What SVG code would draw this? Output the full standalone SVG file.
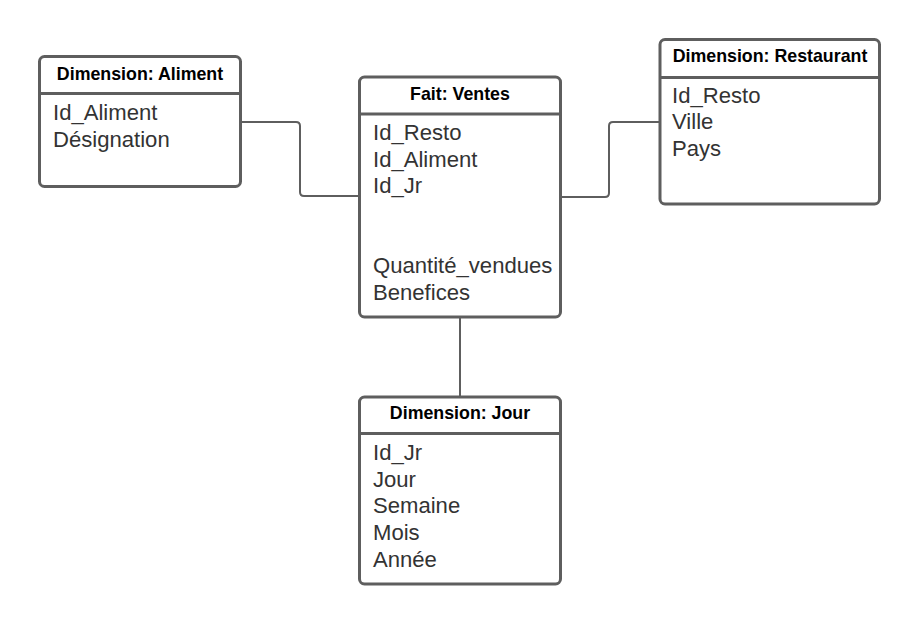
<svg xmlns="http://www.w3.org/2000/svg" width="920" height="625" viewBox="0 0 920 625">
<style>
.box{fill:#fff;stroke:#5e5e5e;stroke-width:3}
.div{stroke:#5e5e5e;stroke-width:3}
.title{font-family:"Liberation Sans",Arial,sans-serif;font-weight:bold;font-size:17.8px;fill:#000;text-anchor:middle}
.body{font-family:"Liberation Sans",Arial,sans-serif;font-size:22.1px;fill:#333}
.conn{fill:none;stroke:#5e5e5e;stroke-width:2}
</style>
<rect width="920" height="625" fill="#fff"/>
<g id="connectors">
<path class="conn" d="M240.5,122 H296 Q300,122 300,126 V192 Q300,196 304,196 H359"/>
<path class="conn" d="M560.5,197 H605 Q609,197 609,193 V126 Q609,122 613,122 H660"/>
<path class="conn" d="M460,317 V397"/>
</g>
<g id="aliment">
<rect class="box" x="39.5" y="56.5" width="201" height="130" rx="5"/>
<line class="div" x1="39.5" y1="93.5" x2="240.5" y2="93.5"/>
<text class="title" x="140" y="80">Dimension: Aliment</text>
<text class="body" x="53" y="120">Id_Aliment</text>
<text class="body" x="53" y="147">Désignation</text>
</g>
<g id="ventes">
<rect class="box" x="359.5" y="77" width="201" height="240" rx="5"/>
<line class="div" x1="359.5" y1="114" x2="560.5" y2="114"/>
<text class="title" x="460" y="100">Fait: Ventes</text>
<text class="body" x="373" y="140">Id_Resto</text>
<text class="body" x="373" y="166.7">Id_Aliment</text>
<text class="body" x="373" y="193.3">Id_Jr</text>
<text class="body" x="373" y="273.3">Quantité_vendues</text>
<text class="body" x="373" y="300">Benefices</text>
</g>
<g id="restaurant">
<rect class="box" x="660" y="39.5" width="219.5" height="164.5" rx="5"/>
<line class="div" x1="660" y1="77.5" x2="879.5" y2="77.5"/>
<text class="title" x="770" y="62">Dimension: Restaurant</text>
<text class="body" x="672" y="102.7">Id_Resto</text>
<text class="body" x="672" y="129.3">Ville</text>
<text class="body" x="672" y="156">Pays</text>
</g>
<g id="jour">
<rect class="box" x="359.5" y="397" width="201" height="187" rx="5"/>
<line class="div" x1="359.5" y1="433.5" x2="560.5" y2="433.5"/>
<text class="title" x="460" y="419">Dimension: Jour</text>
<text class="body" x="373" y="460">Id_Jr</text>
<text class="body" x="373" y="486.7">Jour</text>
<text class="body" x="373" y="513.3">Semaine</text>
<text class="body" x="373" y="540">Mois</text>
<text class="body" x="373" y="566.7">Année</text>
</g>
</svg>
